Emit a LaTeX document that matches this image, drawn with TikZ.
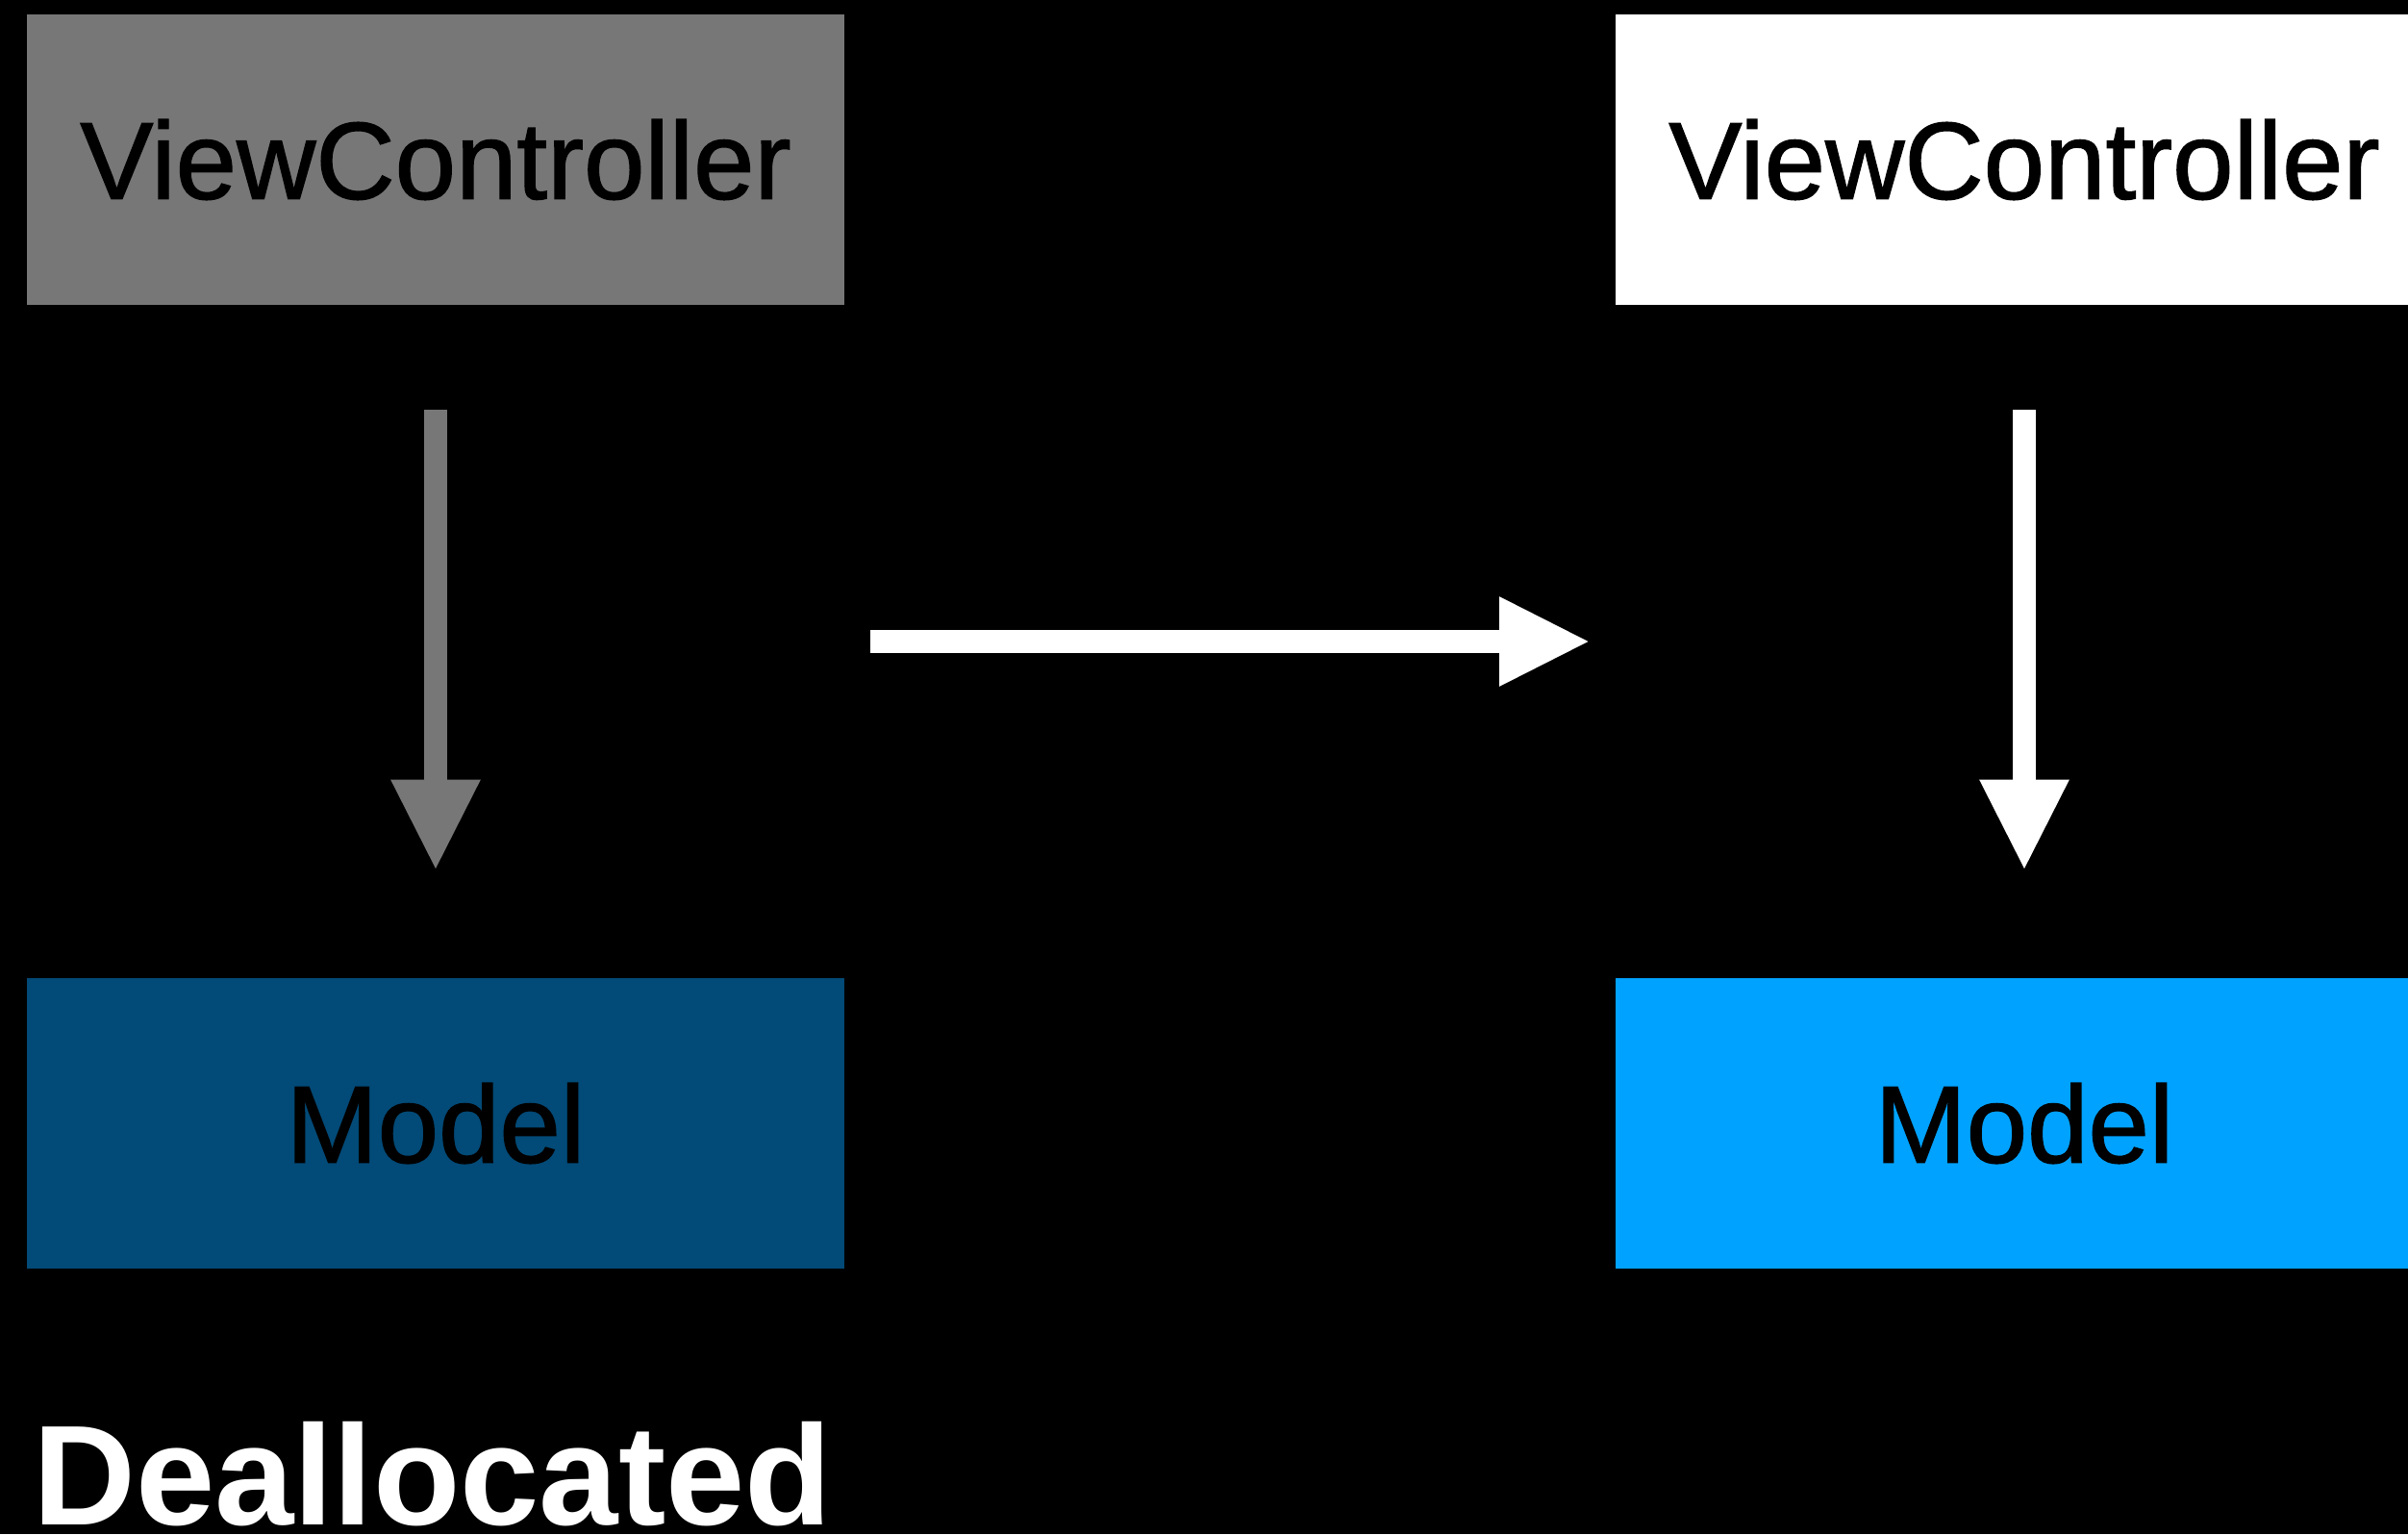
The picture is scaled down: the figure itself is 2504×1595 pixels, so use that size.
\documentclass[tikz,border=0pt]{standalone}
\usepackage{fontspec}
\setmainfont{Liberation Sans}
\newfontfamily\medfont[FakeBold=1.2]{Liberation Sans}
\usetikzlibrary{arrows.meta}
\definecolor{vcgray}{RGB}{119,119,119}
\definecolor{mdark}{RGB}{2,74,119}
\definecolor{mlight}{RGB}{0,162,255}
\begin{document}
\begin{tikzpicture}[x=0.5pt,y=-0.5pt,
  box/.style={rectangle, draw=none, minimum width=425pt, minimum height=151pt, inner sep=0pt,
    font=\medfont\fontsize{57pt}{60pt}\selectfont, text=black},
  varrow/.style={line width=12pt, -{Triangle[length=47.5pt,width=43pt]}},
]
\fill[black] (0,0) rectangle (2504,1595);
\useasboundingbox (0,0) rectangle (2504,1595);
\clip (0,0) rectangle (2504,1595);

\node[box, fill=vcgray] (vc1) at (453,166) {ViewController};
\node[box, fill=white]  (vc2) at (2105,166) {ViewController};
\node[box, fill=mdark]  (m1)  at (453,1168) {Model};
\node[box, fill=mlight] (m2)  at (2105,1168) {Model};

\draw[varrow, vcgray, shorten <=54.5pt, shorten >=55.5pt] (vc1) -- (m1);
\draw[varrow, white, shorten <=54.5pt, shorten >=55.5pt] (vc2) -- (m2);

\coordinate (hs) at (905,667);
\coordinate (he) at (1654,667);
\draw[varrow, white] (hs) -- (he);

\node[anchor=base west, inner sep=0pt, text=white, font=\bfseries\fontsize{74pt}{76pt}\selectfont] (dealloc) at (34,1585) {Deallocated};
\end{tikzpicture}
\end{document}
